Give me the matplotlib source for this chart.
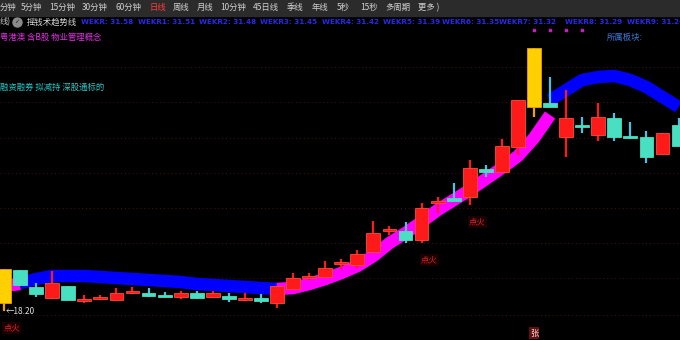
"""摇钱术趋势线 - 日线K线图."""
import numpy as np
import matplotlib.pyplot as plt
from matplotlib.patches import Rectangle
from matplotlib.lines import Line2D

plt.rcParams['font.family'] = ['Noto Sans CJK SC', 'DejaVu Sans']

# K线数据 (开, 高, 低, 收)
opens = [18.60, 20.25, 19.40, 18.85, 19.45, 18.70, 18.80, 18.75, 19.10, 19.10,
         18.95, 18.90, 19.10, 18.90, 18.95, 18.75, 18.85, 18.60, 19.30, 19.85,
         19.90, 20.55, 20.50, 21.15, 22.20, 22.20, 21.75, 23.60, 23.85, 23.90,
         25.30, 25.15, 26.40, 28.40, 28.60, 26.90, 27.50, 27.00, 27.85, 26.95,
         26.90, 26.05, 27.50]
highs = [20.30, 20.25, 19.60, 20.20, 19.45, 19.00, 19.00, 19.35, 19.40, 19.35,
         19.15, 19.20, 19.20, 19.20, 19.10, 19.10, 19.05, 19.45, 20.10, 20.10,
         20.70, 20.80, 21.25, 22.70, 22.45, 22.65, 23.60, 23.90, 24.60, 25.75,
         25.50, 26.80, 28.75, 31.35, 29.90, 29.25, 27.90, 28.60, 28.10, 27.65,
         27.20, 27.10, 27.85]
lows = [18.20, 19.45, 18.90, 18.80, 18.75, 18.60, 18.75, 18.75, 19.05, 18.90,
        18.85, 18.80, 18.80, 18.85, 18.65, 18.70, 18.60, 18.35, 19.30, 19.75,
        19.85, 20.30, 20.35, 21.10, 22.00, 21.60, 21.60, 23.10, 23.65, 23.50,
        24.90, 25.15, 26.00, 27.90, 28.40, 25.90, 27.10, 26.70, 26.70, 26.80,
        25.60, 26.05, 26.45]
closes = [20.30, 19.50, 19.05, 19.60, 18.75, 18.80, 18.90, 19.10, 19.20, 18.95,
          18.90, 19.10, 18.85, 19.10, 18.80, 18.85, 18.70, 19.45, 19.85, 19.95,
          20.35, 20.65, 21.05, 22.10, 22.30, 21.75, 23.35, 23.70, 23.70, 25.35,
          25.15, 26.45, 28.75, 31.35, 28.40, 27.85, 27.40, 27.90, 26.90, 26.85,
          25.90, 27.10, 26.45]
yellow_idx = [0, 33]

nan = np.nan
# 趋势带: 上升(紫) / 下降(蓝)
band_up = [19.45, 19.55] + [nan] * 15 + [
    19.30, 19.35, 19.55, 19.80, 20.10, 20.45, 20.95, 21.60, 22.10, 22.65,
    23.25, 23.75, 24.25, 24.80, 25.35, 25.95, 26.85, 28.00] + [nan] * 8
band_dn = [nan, 19.60, 19.80, 19.95, 19.95, 19.95, 19.90, 19.85, 19.80, 19.75,
           19.70, 19.65, 19.55, 19.50, 19.45, 19.40, 19.35, 19.30] + [nan] * 16 + [
    28.75, 29.25, 29.75, 29.90, 29.95, 29.75, 29.40, 28.90, 28.40]

grid_levels = [18.00, 19.85, 21.60, 23.35, 25.10, 26.85, 28.65, 30.40]
fire_idx = [0, 26, 29]
dot_idx = [33, 34, 35, 36]
zhang_idx = 33
low_label = '18.20'

toolbar = ['分钟', '5分钟', '15分钟', '30分钟', '60分钟', '日线', '周线', '月线',
           '10分钟', '45日线', '季线', '年线', '5秒', '15秒', '多周期', '更多 )']
toolbar_x = [0, 21, 49, 82, 115, 150, 173, 197, 220, 253, 287, 312, 337, 360,
             385, 418]
wekr_names = ['WEKR', 'WEKR1', 'WEKR2', 'WEKR3', 'WEKR4', 'WEKR5', 'WEKR6',
              'WEKR7', 'WEKR8', 'WEKR9']
wekr_vals = [31.58, 31.51, 31.48, 31.45, 31.42, 31.39, 31.35, 31.32, 31.29, 31.26]
wekr_x = [81, 138, 199, 260, 322, 383, 442, 499, 565, 627]
concepts = '粤港澳 含B股 物业管理概念'
tags = '融资融券 拟减持 深股通标的'

W, H = 680, 340
fig = plt.figure(figsize=(6.8, 3.4), dpi=100, facecolor='black')
ax = fig.add_axes([0, 0, 1, 1])
ax.set_facecolor('black')
ax.set_xlim(-0.249, 42.09)
ax.set_ylim(16.75, 33.75)
ax.axis('off')

x = np.arange(len(opens))
o = np.array(opens)
c = np.array(closes)
hi = np.array(highs)
lo = np.array(lows)

# 网格虚线
for g in grid_levels:
    ax.axhline(g, color='#4a1414', lw=0.7, ls=(0, (1, 3)), zorder=0)

# 趋势带
ax.plot(x, band_dn, color='#0000ff', lw=9.0, solid_capstyle='butt',
        solid_joinstyle='round', zorder=1)
ax.plot(x, band_up, color='#ff00ff', lw=9.0, solid_capstyle='butt',
        solid_joinstyle='round', zorder=1.5)

# K线
red = '#ff1a1a'
teal = '#48e0c0'
for i in x:
    if i in yellow_idx:
        face, edge, wick = '#ffd000', '#f0a000', '#f0a000'
    elif c[i] >= o[i]:
        face, edge, wick = red, '#ff4a3a', red
    else:
        face, edge, wick = teal, teal, '#50c0e0'
    ax.vlines(i, lo[i], hi[i], color=wick, lw=1.6, zorder=2)
    bottom = min(o[i], c[i])
    height = max(abs(c[i] - o[i]), 0.09)
    ax.bar(i, height, bottom=bottom, width=0.86, color=face, edgecolor=edge,
           lw=0.6, zorder=3)

# 点火标记
for i in fire_idx:
    ax.text(i - 0.05, lo[i] - 0.85, '点火', color='#e82020', fontsize=6,
            ha='left', va='center', zorder=4,
            bbox=dict(boxstyle='square,pad=0.15', fc='#1a0000', ec='none'))

ax.text(zhang_idx, 17.1, '张', color='#ffd0d0', fontsize=6, ha='center',
        va='center', zorder=4,
        bbox=dict(boxstyle='square,pad=0.15', fc='#601010', ec='none'))
ax.scatter(dot_idx, [32.25] * len(dot_idx), s=3, color='#c020c0', zorder=4)

ax.annotate('←' + low_label, xy=(0, lo[0]), xytext=(1, 0),
            textcoords='offset points', color='#e0e0e0', fontsize=6,
            ha='left', va='center', zorder=5)


def fx(px):
    return px / W


def fy(py):
    return 1 - py / H


# 顶部工具栏
fig.add_artist(Rectangle((0, fy(16)), 1, 16 / H, transform=fig.transFigure,
                         color='#2b2b2b', zorder=5))
for lab, px in zip(toolbar, toolbar_x):
    col = '#ff3b3b' if lab == '日线' else '#d0d0d0'
    fig.text(fx(px), fy(7.5), lab, color=col, fontsize=6, ha='left',
             va='center', zorder=6)

# 指标标题行
fig.text(fx(0), fy(22), '线)', color='#c8c8c8', fontsize=6, ha='left',
         va='center')
fig.add_artist(Line2D([fx(17)], [fy(21.5)], marker='o', ms=6.5,
                      color='#8a8a8a', transform=fig.transFigure))
fig.text(fx(17), fy(21.5), '✓', color='#202020', fontsize=4.5, ha='center',
         va='center', family=['DejaVu Sans'])
fig.text(fx(27), fy(22), '摇钱术趋势线', color='#d8d8d8', fontsize=6,
         ha='left', va='center')
for nm, v, px in zip(wekr_names, wekr_vals, wekr_x):
    fig.text(fx(px), fy(22), f'{nm}: {v:.2f}', color='#2828e8', fontsize=5.2,
             ha='left', va='center', fontweight='bold', family=['DejaVu Sans'])

fig.text(fx(0), fy(37), concepts, color='#e030e0', fontsize=6, ha='left',
         va='center')
fig.text(fx(607), fy(37), '所属板块:', color='#3c78d8', fontsize=6, ha='left',
         va='center')
fig.text(fx(0), fy(87), tags, color='#28c8c8', fontsize=6, ha='left',
         va='center')

fig.savefig('out.png', dpi=100, facecolor='black')
